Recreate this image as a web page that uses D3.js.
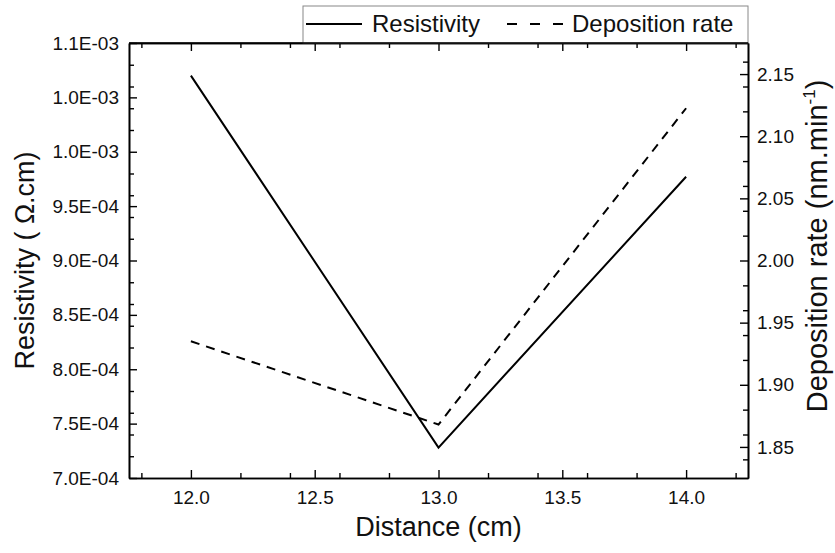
<!DOCTYPE html>
<html>
<head>
<meta charset="utf-8">
<script src="https://cdn.jsdelivr.net/npm/d3@7"></script>
<style>
  body { margin: 0; background: #fff; }
  text { font-family: "Liberation Sans", Arial, sans-serif; fill: #111; }
</style>
</head>
<body>
<div id="chart"></div>
<script>
// data
const distance = [12.0, 13.0, 14.0];
const resistivity = [1.07e-3, 0.728e-3, 0.977e-3];
const depositionRate = [1.935, 1.868, 2.1225];

const xTicks = [12.0, 12.5, 13.0, 13.5, 14.0];
const leftTicks = [7.0e-4, 7.5e-4, 8.0e-4, 8.5e-4, 9.0e-4, 9.5e-4, 1.0e-3, 1.05e-3, 1.1e-3];
const leftTickLabels = ["7.0E-04", "7.5E-04", "8.0E-04", "8.5E-04", "9.0E-04", "9.5E-04", "1.0E-03", "1.0E-03", "1.1E-03"];
const rightTicks = [1.85, 1.90, 1.95, 2.00, 2.05, 2.10, 2.15];

// set the dimensions and margins of the graph
const margin = { top: 43, right: 87, bottom: 75, left: 129 },
    width = 835 - margin.left - margin.right,
    height = 553 - margin.top - margin.bottom;

const svgRoot = d3.select("#chart")
    .append("svg")
    .attr("width", 835)
    .attr("height", 553);

const svg = svgRoot.append("g")
    .attr("transform", `translate(${margin.left},${margin.top})`);

const x = d3.scaleLinear().domain([11.75, 14.25]).range([0, width]);
const yL = d3.scaleLinear().domain([7.0e-4, 1.1e-3]).range([height, 0]);
const yR = d3.scaleLinear().domain([1.825, 2.175]).range([height, 0]);

function styleAxis(g) {
    g.select(".domain").attr("stroke", "#000").attr("stroke-width", 1.6);
    g.selectAll(".tick line").attr("stroke", "#000").attr("stroke-width", 1.4);
    g.selectAll(".tick text").style("font-size", "19px").attr("fill", "#111");
}

// minor ticks
const xMinor = x.ticks(10).filter(d => !xTicks.some(t => Math.abs(t - d) < 1e-9));
const lMinor = yL.ticks(16).filter(d => !leftTicks.some(t => Math.abs(t - d) < 1e-12));
const rMinor = yR.ticks(14).filter(d => !rightTicks.some(t => Math.abs(t - d) < 1e-9));

svg.append("g").attr("transform", `translate(0,${height})`)
    .call(d3.axisBottom(x).tickValues(xMinor).tickSizeInner(-5).tickSizeOuter(0).tickFormat(""))
    .call(styleAxis);
svg.append("g")
    .call(d3.axisTop(x).tickValues(xMinor).tickSizeInner(-5).tickSizeOuter(0).tickFormat(""))
    .call(styleAxis);
svg.append("g")
    .call(d3.axisLeft(yL).tickValues(lMinor).tickSizeInner(-5).tickSizeOuter(0).tickFormat(""))
    .call(styleAxis);
svg.append("g").attr("transform", `translate(${width},0)`)
    .call(d3.axisRight(yR).tickValues(rMinor).tickSizeInner(-5).tickSizeOuter(0).tickFormat(""))
    .call(styleAxis);

// major ticks
svg.append("g").attr("transform", `translate(0,${height})`)
    .call(d3.axisBottom(x).tickValues(xTicks).tickSizeInner(-8).tickSizeOuter(0).tickPadding(13)
        .tickFormat(d3.format(".1f")))
    .call(styleAxis);
svg.append("g")
    .call(d3.axisTop(x).tickValues(xTicks).tickSizeInner(-8).tickSizeOuter(0).tickFormat(""))
    .call(styleAxis);
svg.append("g")
    .call(d3.axisLeft(yL).tickValues(leftTicks).tickSizeInner(-8).tickSizeOuter(0).tickPadding(10)
        .tickFormat((d, i) => leftTickLabels[i]))
    .call(styleAxis);
svg.append("g").attr("transform", `translate(${width},0)`)
    .call(d3.axisRight(yR).tickValues(rightTicks).tickSizeInner(-8).tickSizeOuter(0).tickPadding(9)
        .tickFormat(d3.format(".2f")))
    .call(styleAxis);

// Lines
const pts = distance.map((d, i) => ({ x: d, r: resistivity[i], dep: depositionRate[i] }));

svg.append("path")
    .datum(pts)
    .attr("fill", "none")
    .attr("stroke", "#000")
    .attr("stroke-width", 2)
    .attr("d", d3.line().x(d => x(d.x)).y(d => yL(d.r)));

svg.append("path")
    .datum(pts)
    .attr("fill", "none")
    .attr("stroke", "#000")
    .attr("stroke-width", 2)
    .attr("stroke-dasharray", "9,7")
    .attr("d", d3.line().x(d => x(d.x)).y(d => yR(d.dep)));

// axis titles
svgRoot.append("text")
    .attr("x", margin.left + width / 2)
    .attr("y", 536)
    .attr("text-anchor", "middle")
    .style("font-size", "27px")
    .text("Distance (cm)");

svgRoot.append("text")
    .attr("transform", `translate(34,${margin.top + height / 2})rotate(-90)`)
    .attr("text-anchor", "middle")
    .style("font-size", "27px")
    .text("Resistivity ( \u03A9.cm)");

const rt = svgRoot.append("text")
    .attr("transform", `translate(827,246)rotate(-90)`)
    .attr("text-anchor", "middle")
    .style("font-size", "29px");
rt.append("tspan").text("Deposition rate (nm.min");
rt.append("tspan").attr("dy", -12).style("font-size", "17px").text("-1");
rt.append("tspan").attr("dy", 12).text(")");

// legend
const lg = svgRoot.append("g");
lg.append("rect")
    .attr("x", 303).attr("y", 6)
    .attr("width", 445).attr("height", 37)
    .attr("fill", "#fff")
    .attr("stroke", "#888")
    .attr("stroke-width", 1);
lg.append("line")
    .attr("x1", 306).attr("x2", 362).attr("y1", 24).attr("y2", 24)
    .attr("stroke", "#000").attr("stroke-width", 2);
lg.append("text").attr("x", 372).attr("y", 32).style("font-size", "24px").text("Resistivity");
lg.append("line")
    .attr("x1", 507).attr("x2", 563).attr("y1", 24).attr("y2", 24)
    .attr("stroke", "#000").attr("stroke-width", 2)
    .attr("stroke-dasharray", "10,13");
lg.append("text").attr("x", 572).attr("y", 32).style("font-size", "24px").text("Deposition rate");

// redraw top axis line over the legend box bottom edge
svgRoot.append("line")
    .attr("x1", margin.left).attr("x2", margin.left + width)
    .attr("y1", margin.top).attr("y2", margin.top)
    .attr("stroke", "#000").attr("stroke-width", 1.6);
</script>
</body>
</html>
